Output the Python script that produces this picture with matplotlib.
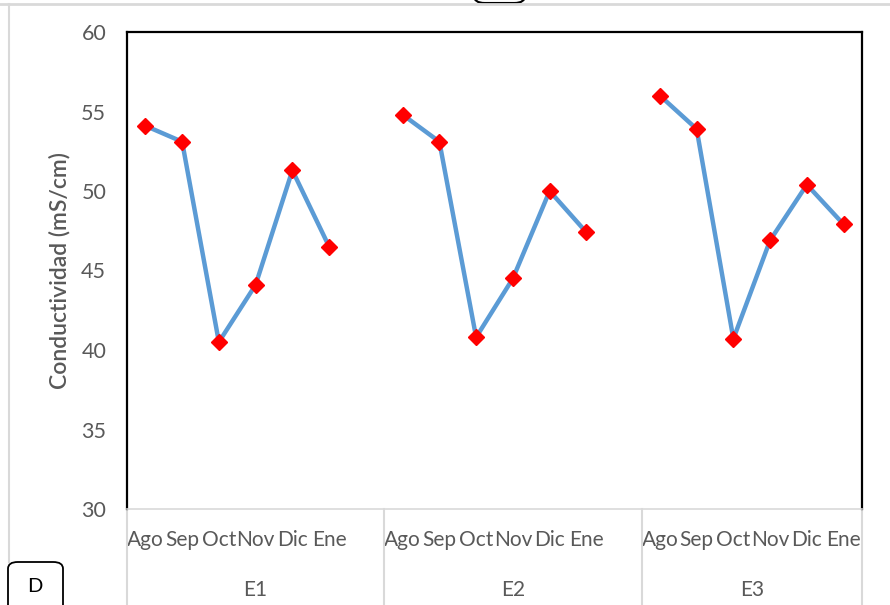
import numpy as np
import matplotlib
matplotlib.use("Agg")
import matplotlib.pyplot as plt
from matplotlib.patches import FancyBboxPatch
from matplotlib.lines import Line2D

# ---------------------------------
# Data
# ---------------------------------
months = ["Ago", "Sep", "Oct", "Nov", "Dic", "Ene"]
groups = ["E1", "E2", "E3"]
e1 = [54.1, 53.1, 40.5, 44.1, 51.3, 46.5]
e2 = [54.8, 53.1, 40.8, 44.5, 50.0, 47.4]
e3 = [56.0, 53.9, 40.7, 46.9, 50.4, 47.9]
y_ticks = [30, 35, 40, 45, 50, 55, 60]

W, H = 890, 605
TEXT = "#595959"
GRID = "#D9D9D9"
plt.rcParams["font.family"] = ["Lato", "DejaVu Sans"]

fig = plt.figure(figsize=(W / 100, H / 100), dpi=100)


def fx(x):
    return x / W


def fy(y):
    return 1 - y / H


# plot area in pixel coords
left, right, top, bottom = 127, 862, 32, 509
ax = fig.add_axes([fx(left), fy(bottom), fx(right - left), (bottom - top) / H])

# each group has 6 month slots plus a blank slot between groups
series = [e1, e2, e3]
xs, ys, labels = [], [], []
slot = 0
for g, vals in enumerate(series):
    for m, v in zip(months, vals):
        xs.append(slot + 0.5)
        ys.append(v)
        labels.append(m)
        slot += 1
    if g < len(series) - 1:
        xs.append(slot + 0.5)
        ys.append(np.nan)
        labels.append("")
        slot += 1
n_slots = slot

ax.plot(xs, ys, color="#5B9BD5", lw=3.2, marker="D", ms=8.5,
        mfc="#FF0000", mec="#FF0000", solid_joinstyle="round", zorder=3)

ax.set_xlim(0, n_slots)
ax.set_ylim(30, 60)
ax.set_yticks(y_ticks)
ax.set_xticks(xs)
ax.set_xticklabels(labels)
ax.tick_params(axis="both", length=0, colors=TEXT, labelsize=15)
ax.tick_params(axis="y", pad=15, labelsize=15.5)
ax.tick_params(axis="x", pad=15)
ax.set_ylabel("Conductividad (mS/cm)", color=TEXT, fontsize=16.5,
              fontweight="semibold", labelpad=8)

for s in ["top", "left", "right"]:
    ax.spines[s].set_color("black")
    ax.spines[s].set_linewidth(1.6)
ax.spines["bottom"].set_color(GRID)
ax.spines["bottom"].set_linewidth(1.2)

# group labels below the month labels
trans = ax.get_xaxis_transform()
label_y = -(590 - bottom) / (bottom - top)
start = 0
for g, name in enumerate(groups):
    end = start + 6 + (1 if g < len(groups) - 1 else 0)
    ax.text((start + end) / 2, label_y, name, transform=trans,
            ha="center", va="center", color=TEXT, fontsize=15)
    start = end

# group separators
bounds = [0, 7, 14, n_slots]
for b in bounds:
    ax.add_line(Line2D([b, b], [0, -(H - bottom) / (bottom - top)], transform=trans,
                       color=GRID, lw=1.5, clip_on=False))

# outer frame remnants of the screenshot
fig.add_artist(Line2D([0, 1], [fy(3.5), fy(3.5)], transform=fig.transFigure,
                      color=GRID, lw=2))
fig.add_artist(Line2D([fx(9), fx(9)], [fy(4), fy(562)], transform=fig.transFigure,
                      color=GRID, lw=1.5))
# small tab at top
fig.add_artist(FancyBboxPatch((fx(474), fy(3)), fx(51), 0.03,
                              boxstyle="round,pad=0,rounding_size=0.012",
                              transform=fig.transFigure, fc="white", ec="black", lw=1.5))
# "D" panel label
fig.add_artist(FancyBboxPatch((fx(8), fy(620)), fx(55), (620 - 562) / H,
                              boxstyle="round,pad=0,rounding_size=0.011",
                              transform=fig.transFigure, fc="white", ec="black", lw=1.3))
fig.text(fx(35), fy(587), "D", ha="center", va="center", fontsize=14.5,
         color="black")

fig.savefig("out.png", dpi=100)
